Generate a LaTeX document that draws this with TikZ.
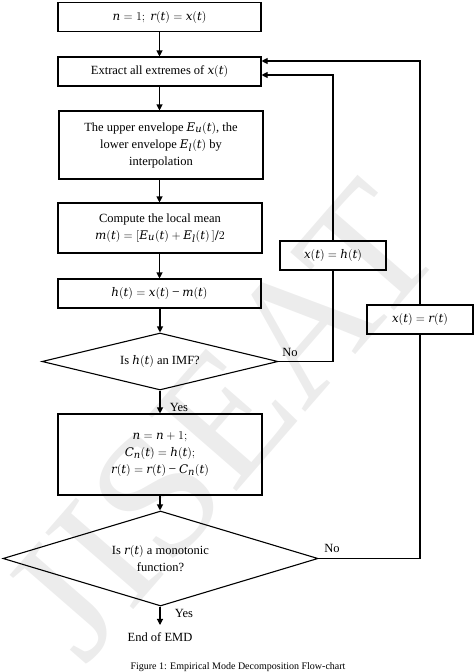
\documentclass[tikz,border=0pt]{standalone}
\usepackage{fontspec}
\setmainfont{DejaVu Serif}[Scale=0.95]
\usepackage[italic]{mathastext}
\setmainfont{Liberation Serif}
\newcommand\mminus{\mathbin{\mbox{\fontsize{13.5}{17}\selectfont −}}}
\usetikzlibrary{shapes.geometric,arrows.meta,calc}
\begin{document}
\begin{tikzpicture}[x=1pt,y=-1pt,
  font=\fontsize{12.5}{17}\selectfont,
  every path/.style={line width=1.1pt},
  procbox/.style={draw, rectangle, inner sep=0pt, align=center},
  decision/.style={draw, diamond, inner sep=0pt, align=center},
  arr/.style={-{Triangle[length=6pt,width=6pt]}},
  lbl/.style={inner sep=0pt}]
\useasboundingbox (0,0) rectangle (474,672);
% watermark
\node[text=gray!15, rotate=49, font=\fontsize{178}{178}\selectfont, inner sep=0pt] (wm) at (222,420) {JISEAT};
% main column
\node[procbox, minimum width=203pt, minimum height=29pt] (b1) at (159.5,17) {$n=1;\ r(t)=x(t)$};
\node[procbox, minimum width=203pt, minimum height=29pt] (b2) at (159.5,71.5) {Extract all extremes of $x(t)$};
\node[procbox, minimum width=204pt, minimum height=68pt] (b3) at (161,145) {The upper envelope $E_u(t)$, the\\ lower envelope $E_l(t)$ by\\ interpolation};
\node[procbox, minimum width=204pt, minimum height=50pt] (b4) at (160,228) {Compute the local mean\\ $m(t)=[E_u(t)+E_l(t)\,]/2$};
\node[procbox, minimum width=203pt, minimum height=29pt] (b5) at (159.5,293.5) {$h(t)=x(t)\mminus m(t)$};
\node[decision, aspect=4.1, minimum width=236pt, minimum height=57pt] (d1) at (160,361.5) {Is $h(t)$ an IMF?};
\node[procbox, minimum width=204pt, minimum height=81pt] (b6) at (160,454.5) {$n=n+1;$\\ $C_n(t)=h(t);$\\ $r(t)=r(t)\mminus C_n(t)$};
\node[decision, aspect=3.3, minimum width=315pt, minimum height=95pt] (d2) at (160.5,558.5) {Is $r(t)$ a monotonic\\ function?};
\node[lbl] (end) at (160,637) {End of EMD};
% side boxes
\node[procbox, minimum width=106pt, minimum height=29pt] (xh) at (333,255.5) {$x(t)=h(t)$};
\node[procbox, minimum width=106pt, minimum height=29pt] (xr) at (420,319.5) {$x(t)=r(t)$};
% caption
\node[lbl, font=\fontsize{10}{12}\selectfont] (cap) at (238,667) {Figure 1: Empirical Mode Decomposition Flow-chart};
% coordinates
\coordinate (c1) at (333,361.5);
\coordinate (c2) at (333,75);
\coordinate (c3) at (420,558.5);
\coordinate (c4) at (420,61);
% connectors
\draw[arr] (b1) -- (b2);
\draw[arr] (b2) -- (b3.north -| b2);
\draw[arr] (b3.south -| b2) -- (b4.north -| b2);
\draw[arr] (b4.south -| b2) -- (b5);
\draw[arr] (b5.south -| d1) -- (d1.north);
\draw[arr] (d1.south) -- (b6.north);
\draw[arr] (b6.south) -- (d2.north -| b6);
\draw[arr] (d2.south -| b6) -- ($(end.north)+(0,-7)$);
\draw (d1.east) -- (c1) -- (xh.south);
\draw[arr] (xh.north) -- (c2) -- (c2 -| b2.east);
\draw (d2.east) -- (c3) -- (xr.south);
\draw[arr] (xr.north) -- (c4) -- (c4 -| b2.east);
% labels
\node[lbl] (no1) at (290,352) {No};
\node[lbl] (no2) at (332,548) {No};
\node[lbl] (yes1) at (179,407) {Yes};
\node[lbl] (yes2) at (184,613) {Yes};
\end{tikzpicture}
\end{document}
